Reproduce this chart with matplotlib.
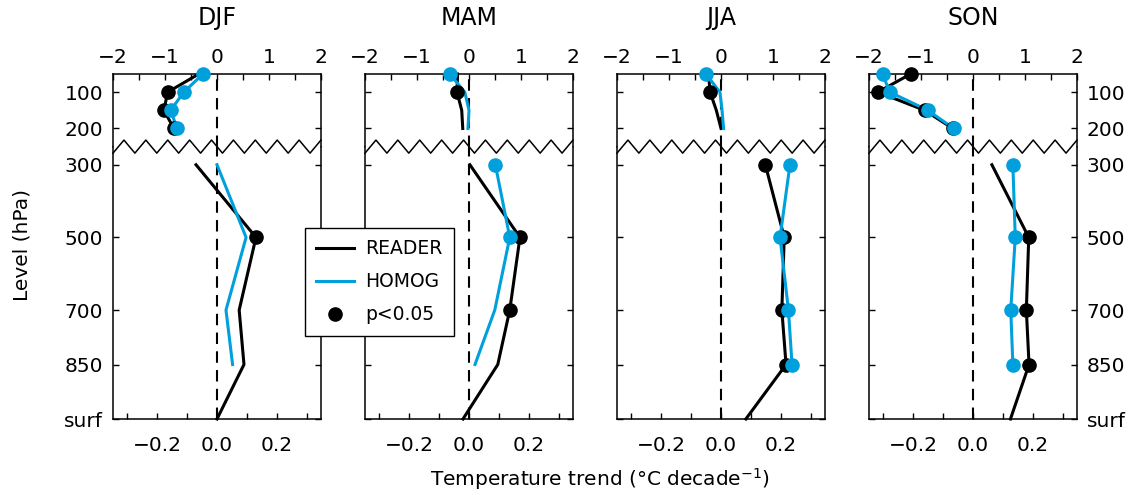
import numpy as np
import matplotlib
matplotlib.use("Agg")
import matplotlib.pyplot as plt
from matplotlib.lines import Line2D
from matplotlib.transforms import blended_transform_factory

plt.rcParams['font.family'] = 'DejaVu Sans'
plt.rcParams['mathtext.default'] = 'regular'

seasons = ["DJF", "MAM", "JJA", "SON"]
lev_up = [50, 100, 150, 200]
lev_lo = [300, 500, 700, 850, 1000]
nan = np.nan

# stratosphere trends (top axis), troposphere trends (bottom axis)
reader_up = {
    "DJF": [-0.35, -0.95, -1.02, -0.83],
    "MAM": [-0.22, -0.23, -0.14, -0.12],
    "JJA": [-0.24, -0.21, -0.09, 0.00],
    "SON": [-1.20, -1.83, -0.93, -0.39],
}
reader_up_sig = {
    "DJF": [0, 1, 1, 1],
    "MAM": [0, 1, 0, 0],
    "JJA": [0, 1, 0, 0],
    "SON": [1, 1, 1, 1],
}
homog_up = {
    "DJF": [-0.27, -0.64, -0.89, -0.77],
    "MAM": [-0.37, -0.08, 0.00, -0.02],
    "JJA": [-0.29, -0.02, 0.02, 0.05],
    "SON": [-1.74, -1.60, -0.87, -0.37],
}
homog_up_sig = {
    "DJF": [1, 1, 1, 1],
    "MAM": [1, 0, 0, 0],
    "JJA": [1, 0, 0, 0],
    "SON": [1, 1, 1, 1],
}
reader_lo = {
    "DJF": [-0.07, 0.130, 0.074, 0.090, 0.000],
    "MAM": [0.003, 0.170, 0.136, 0.096, -0.020],
    "JJA": [0.148, 0.211, 0.203, 0.217, 0.083],
    "SON": [0.063, 0.186, 0.178, 0.187, 0.125],
}
reader_lo_sig = {
    "DJF": [0, 1, 0, 0, 0],
    "MAM": [0, 1, 1, 0, 0],
    "JJA": [1, 1, 1, 1, 0],
    "SON": [0, 1, 1, 1, 0],
}
homog_lo = {
    "DJF": [0.000, 0.097, 0.030, 0.052, nan],
    "MAM": [0.088, 0.136, 0.086, 0.020, nan],
    "JJA": [0.230, 0.197, 0.225, 0.237, nan],
    "SON": [0.133, 0.141, 0.126, 0.133, nan],
}
homog_lo_sig = {
    "DJF": [0, 0, 0, 0, 0],
    "MAM": [1, 1, 0, 0, 0],
    "JJA": [1, 1, 1, 1, 0],
    "SON": [1, 1, 1, 1, 0],
}

top_ticks = [-2, -1.5, -1, -0.5, 0, 0.5, 1, 1.5, 2]
top_labels = ["\u22122", "", "\u22121", "", "0", "", "1", "", "2"]
bot_ticks = [-0.3, -0.2, -0.1, 0.0, 0.1, 0.2, 0.3]
bot_labels = ["", "\u22120.2", "", "0.0", "", "0.2", ""]
lev_ticks_up = [100, 200]
lev_labels_up = ["100", "200"]
lev_labels_lo = ["300", "500", "700", "850", "surf"]

blue = "#00a0dc"
W, H = 1135, 495
fig = plt.figure(figsize=(W / 100, H / 100), dpi=100)

lefts = [113, 365, 617, 869]
pw = 208
y_top, y_brk, y_bot = 74, 146.6, 419
fs = 14.5


def draw(ax, x, lev, sig, color):
    x = np.array(x, dtype=float)
    lev = np.array(lev, dtype=float)
    sig = np.array(sig, dtype=bool)
    ax.plot(x, lev, color=color, lw=2.2, zorder=3, clip_on=False)
    ax.plot(x[sig], lev[sig], 'o', color=color, ms=9.5, zorder=4, clip_on=False)


for i, s in enumerate(seasons):
    l = lefts[i] / W
    axt = fig.add_axes([l, 1 - y_brk / H, pw / W, (y_brk - y_top) / H])
    axb = fig.add_axes([l, 1 - y_bot / H, pw / W, (y_bot - y_brk) / H])

    axt.set_xlim(-2, 2)
    axt.set_ylim(250, 50)
    axb.set_xlim(-0.347, 0.347)
    axb.set_ylim(1000, 250)

    for ax in (axt, axb):
        ax.axvline(0, color='black', lw=1.5, dashes=(5.5, 3.5), zorder=2)
        for sp in ax.spines.values():
            sp.set_linewidth(1.1)
        ax.tick_params(direction='in', length=4.5, width=1, labelsize=fs,
                       left=True, right=True, pad=7)
    axt.spines['bottom'].set_visible(False)
    axb.spines['top'].set_visible(False)

    draw(axt, reader_up[s], lev_up, reader_up_sig[s], 'black')
    draw(axt, homog_up[s], lev_up, homog_up_sig[s], blue)
    draw(axb, reader_lo[s], lev_lo, reader_lo_sig[s], 'black')
    draw(axb, homog_lo[s], lev_lo, homog_lo_sig[s], blue)

    # top axis (stratosphere scale)
    axt.xaxis.tick_top()
    axt.set_xticks(top_ticks)
    axt.set_xticklabels(top_labels)
    axt.tick_params(axis='x', top=True, bottom=False, pad=5)
    axt.set_yticks(lev_ticks_up)

    # bottom axis (troposphere scale)
    axb.set_xticks(bot_ticks)
    axb.set_xticklabels(bot_labels)
    axb.tick_params(axis='x', pad=12)
    axb.set_yticks(lev_lo)

    if i in (0, 3):
        axt.set_yticklabels(lev_labels_up)
        axb.set_yticklabels(lev_labels_lo)
        if i == 3:
            axt.yaxis.set_tick_params(labelleft=False, labelright=True)
            axb.yaxis.set_tick_params(labelleft=False, labelright=True)
    else:
        axt.set_yticklabels([])
        axb.set_yticklabels([])

    # break zigzag at 250 hPa
    tr = blended_transform_factory(axb.transAxes, axb.transData)
    n = 19
    zx = np.linspace(0, 1, n + 1)
    zy = np.where(np.arange(n + 1) % 2 == 0, 268, 232)
    axb.plot(zx, zy, color='black', lw=1.1, transform=tr, clip_on=False, zorder=5)

    fig.text((lefts[i] + pw / 2) / W, 1 - 18 / H, s, ha='center', va='center', fontsize=17)

fig.text(22 / W, 1 - 245 / H, "Level (hPa)", rotation=90, ha='center', va='center', fontsize=fs)
fig.text(600 / W, 1 - 479 / H, "Temperature trend (\u00b0C decade$^{-1}$)",
         ha='center', va='center', fontsize=fs)

handles = [Line2D([], [], color='black', lw=2.2),
           Line2D([], [], color=blue, lw=2.2),
           Line2D([], [], color='black', marker='o', ms=9.5, ls='none')]
leg = fig.legend(handles, ["READER", "HOMOG", "p<0.05"], loc='upper left',
                 bbox_to_anchor=(305 / W, 1 - 228 / H), borderaxespad=0,
                 fancybox=False, edgecolor='black', framealpha=1, fontsize=13.5,
                 handlelength=2.0, handletextpad=0.6, labelspacing=0.75, borderpad=0.6)
leg.get_frame().set_linewidth(1.0)

fig.savefig("out.png", dpi=100)
